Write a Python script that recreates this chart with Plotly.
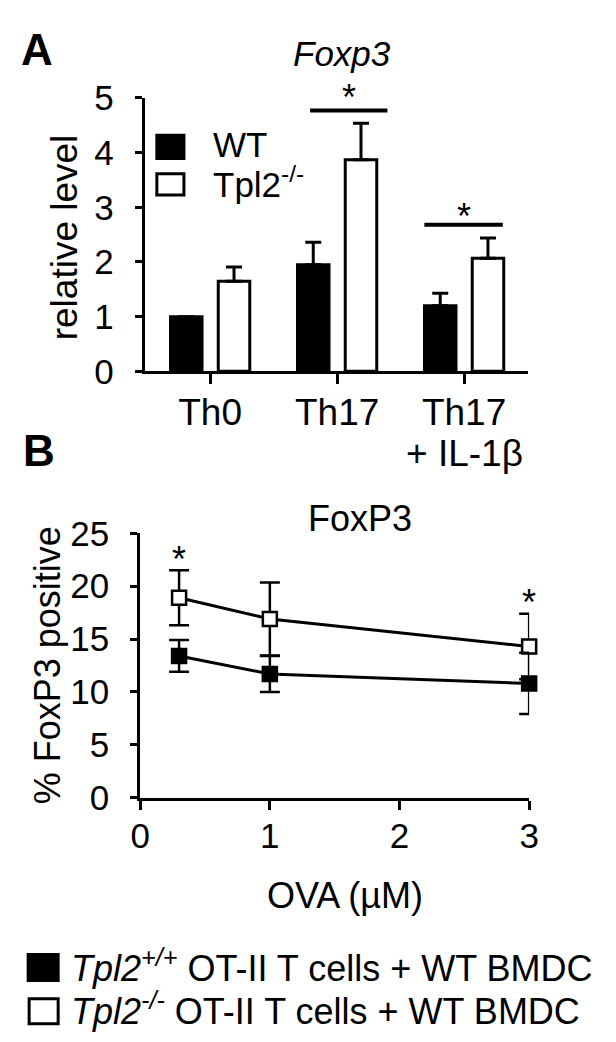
import plotly.graph_objects as go

# ---------------- data ----------------
# Panel A: Foxp3 relative level
categories = ["Th0", "Th17", "Th17 + IL-1β"]
wt_rel = [1.0, 1.95, 1.20]
wt_rel_err = [0.0, 0.41, 0.23]
ko_rel = [1.65, 3.87, 2.07]
ko_rel_err = [0.26, 0.67, 0.37]
a_yticks = [0, 1, 2, 3, 4, 5]
# significance (category-index span, bar height, star height)
a_sig_x0 = [0.787, 1.687]
a_sig_x1 = [1.396, 2.305]
a_sig_y = [4.77, 2.68]
a_star_x = [1.09, 2.0]
a_star_y = [5.15, 2.97]

# Panel B: % FoxP3 positive vs OVA
ova = [0.3, 1, 3]
wt_pct = [13.4, 11.7, 10.8]
wt_pct_err = [1.5, 1.7, 2.9]
ko_pct = [18.9, 16.9, 14.3]
ko_pct_err = [2.6, 3.45, 3.1]
b_xticks = [0, 1, 2, 3]
b_yticks = [0, 5, 10, 15, 20, 25]
b_star_x = [0.3, 3]
b_star_y = [23.3, 19.2]

W, H = 616, 1042
FONT = "Liberation Sans, Arial, Helvetica, sans-serif"


def px(x):
    return x / W


def py(y):
    return 1 - y / H


A_YDOM = [py(356.7), py(72.7)]
A_YRANGE = [0, 5]


def a_y_to_paper(v):
    return A_YDOM[0] + (v - A_YRANGE[0]) / (A_YRANGE[1] - A_YRANGE[0]) * (A_YDOM[1] - A_YDOM[0])


fig = go.Figure()

# ---------------- Panel A bars ----------------
fig.add_trace(go.Bar(
    x=categories, y=wt_rel, name="WT",
    marker=dict(color="black", line=dict(color="black", width=3)),
    error_y=dict(type="data", array=wt_rel_err, arrayminus=[0] * len(wt_rel_err),
                 symmetric=False, color="black", thickness=3, width=8),
    xaxis="x", yaxis="y", showlegend=False))
fig.add_trace(go.Bar(
    x=categories, y=ko_rel, name="Tpl2-/-",
    marker=dict(color="white", line=dict(color="black", width=3)),
    error_y=dict(type="data", array=ko_rel_err, arrayminus=[0] * len(ko_rel_err),
                 symmetric=False, color="black", thickness=3, width=8),
    xaxis="x", yaxis="y", showlegend=False))

# ---------------- Panel B lines ----------------
fig.add_trace(go.Scatter(
    x=ova, y=ko_pct, mode="lines+markers", name="Tpl2-/-",
    line=dict(color="black", width=3),
    marker=dict(symbol="square", size=14, color="white", line=dict(color="black", width=2.5)),
    error_y=dict(type="data", array=ko_pct_err, color="black", thickness=2.5, width=10),
    xaxis="x2", yaxis="y2", showlegend=False, cliponaxis=False))
fig.add_trace(go.Scatter(
    x=ova, y=wt_pct, mode="lines+markers", name="Tpl2+/+",
    line=dict(color="black", width=3),
    marker=dict(symbol="square", size=14, color="black", line=dict(color="black", width=2.5)),
    error_y=dict(type="data", array=wt_pct_err, color="black", thickness=2.5, width=10),
    xaxis="x2", yaxis="y2", showlegend=False, cliponaxis=False))

axis_common = dict(showgrid=False, zeroline=False, showline=True, linecolor="black",
                   linewidth=3, ticks="outside", tickcolor="black", tickwidth=3)

fig.update_layout(
    width=W, height=H,
    margin=dict(l=0, r=0, t=0, b=0),
    paper_bgcolor="white", plot_bgcolor="white",
    font=dict(family=FONT, color="black", size=35),
    barmode="group", bargap=0.248, bargroupgap=0.34,
    xaxis=dict(domain=[px(131), px(526.7)], anchor="y", type="category",
               range=[-0.515, 2.5], tickmode="array", tickvals=categories,
               ticktext=[c.split(" + ")[0] for c in categories],
               ticklen=10, tickfont=dict(size=37), ticklabelstandoff=-4, **axis_common),
    yaxis=dict(domain=A_YDOM, anchor="x", range=A_YRANGE,
               tickvals=a_yticks, ticklen=7, tickfont=dict(size=35),
               ticklabelstandoff=14, **axis_common),
    xaxis2=dict(domain=[px(126.3), px(528.3)], anchor="y2", range=[0, 3],
                tickvals=b_xticks, ticklen=9, tickfont=dict(size=35),
                ticklabelstandoff=-4, **axis_common),
    yaxis2=dict(domain=[py(799.5), py(525)], anchor="x2", range=[0, 25],
                tickvals=b_yticks, ticklen=7, tickfont=dict(size=35),
                ticklabelstandoff=14, **axis_common),
)

shapes = []
# significance bars panel A
for x0, x1, y in zip(a_sig_x0, a_sig_x1, a_sig_y):
    shapes.append(dict(type="line", xref="x", yref="y", x0=x0, x1=x1, y0=y, y1=y,
                       line=dict(color="black", width=4)))
# legend boxes panel A
shapes.append(dict(type="rect", xref="paper", yref="paper", x0=px(143.5), x1=px(171.5),
                   y0=py(135.5), y1=py(111.5), fillcolor="black", line=dict(color="black", width=3)))
shapes.append(dict(type="rect", xref="paper", yref="paper", x0=px(143.5), x1=px(171.5),
                   y0=py(173.5), y1=py(151.5), fillcolor="white", line=dict(color="black", width=3)))
# legend boxes bottom
shapes.append(dict(type="rect", xref="paper", yref="paper", x0=px(10.5), x1=px(41.5),
                   y0=py(989.5), y1=py(962.5), fillcolor="black", line=dict(color="black", width=3)))
shapes.append(dict(type="rect", xref="paper", yref="paper", x0=px(11.5), x1=px(41.5),
                   y0=py(1034.5), y1=py(1008.5), fillcolor="white", line=dict(color="black", width=3)))
fig.update_layout(shapes=shapes)

ann = []
# panel labels
ann.append(dict(text="<b>A</b>", x=px(1), y=py(22), xref="paper", yref="paper",
                xanchor="left", yanchor="middle", showarrow=False, font=dict(size=44)))
ann.append(dict(text="<b>B</b>", x=px(3), y=py(439), xref="paper", yref="paper",
                xanchor="left", yanchor="middle", showarrow=False, font=dict(size=44)))
# titles
ann.append(dict(text="<i>Foxp3</i>", x=px(335), y=py(27), xref="paper", yref="paper",
                xanchor="center", yanchor="middle", showarrow=False, font=dict(size=35)))
ann.append(dict(text="FoxP3", x=px(353), y=py(510), xref="paper", yref="paper",
                xanchor="center", yanchor="middle", showarrow=False, font=dict(size=36)))
# axis titles
ann.append(dict(text="relative level", x=px(48), y=py(217), xref="paper", yref="paper",
                textangle=-90, xanchor="center", yanchor="middle", showarrow=False,
                font=dict(size=37)))
ann.append(dict(text="% FoxP3 positive", x=px(30), y=py(662), xref="paper", yref="paper",
                textangle=-90, xanchor="center", yanchor="middle", showarrow=False,
                font=dict(size=36)))
ann.append(dict(text="OVA (µM)", x=px(338), y=py(901), xref="paper", yref="paper",
                xanchor="center", yanchor="middle", showarrow=False, font=dict(size=36)))
# second line of third category label
ann.append(dict(text="+ " + categories[2].split(" + ")[1], x=categories[2], y=py(442),
                xref="x", yref="paper", xanchor="center", yanchor="middle",
                showarrow=False, font=dict(size=37)))
# stars
for sx, sy in zip(a_star_x, a_star_y):
    ann.append(dict(text="*", x=sx, y=a_y_to_paper(sy), xref="x", yref="paper", xanchor="center",
                    yanchor="middle", yshift=-8, showarrow=False, font=dict(size=36)))
for sx, sy in zip(b_star_x, b_star_y):
    ann.append(dict(text="*", x=sx, y=sy, xref="x2", yref="y2", xanchor="center",
                    yanchor="middle", yshift=-8, showarrow=False, font=dict(size=36)))
# legend texts
ann.append(dict(text="WT", x=px(199), y=py(121), xref="paper", yref="paper",
                xanchor="left", yanchor="middle", showarrow=False, font=dict(size=35)))
ann.append(dict(text="Tpl2<sup>-/-</sup>", x=px(199), y=py(160), xref="paper", yref="paper",
                xanchor="left", yanchor="middle", showarrow=False, font=dict(size=35)))
ann.append(dict(text="<i>Tpl2<sup>+/+</sup></i> OT-II T cells + WT BMDC", x=px(53), y=py(974),
                xref="paper", yref="paper", xanchor="left", yanchor="middle",
                showarrow=False, font=dict(size=36)))
ann.append(dict(text="<i>Tpl2<sup>-/-</sup></i> OT-II T cells + WT BMDC", x=px(53), y=py(1019),
                xref="paper", yref="paper", xanchor="left", yanchor="middle",
                showarrow=False, font=dict(size=36)))
fig.update_layout(annotations=ann)

fig.write_html("out.html")
